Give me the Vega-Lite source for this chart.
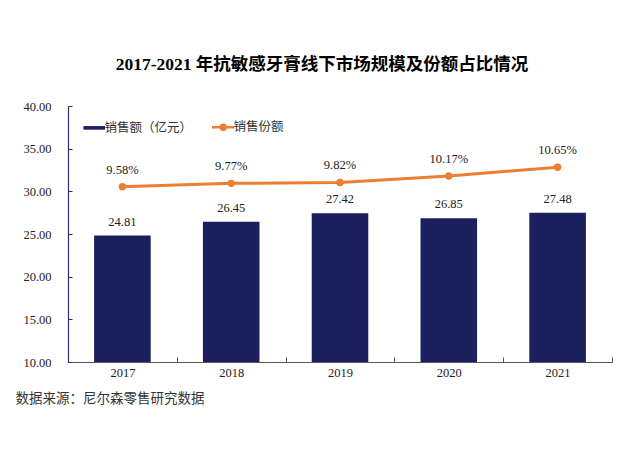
{
  "$schema": "https://vega.github.io/schema/vega-lite/v6.json",
  "autosize": {"type": "none"},
  "padding": {"left": 68, "top": 106, "right": 11, "bottom": 91},
  "width": 544,
  "height": 256,
  "background": "white",
  "title": {
    "text": "2017-2021 年抗敏感牙膏线下市场规模及份额占比情况",
    "font": "Liberation Serif, Noto Sans CJK SC",
    "fontSize": 17.5,
    "fontWeight": "bold",
    "color": "#000000",
    "anchor": "middle",
    "dx": -18,
    "offset": 27
  },
  "config": {
    "view": {"stroke": null},
    "font": "Liberation Serif, Noto Sans CJK SC"
  },
  "data": {
    "values": [
      {"year": "2017", "sales": 24.81, "share": 9.58, "shareLabel": "9.58%"},
      {"year": "2018", "sales": 26.45, "share": 9.77, "shareLabel": "9.77%"},
      {"year": "2019", "sales": 27.42, "share": 9.82, "shareLabel": "9.82%"},
      {"year": "2020", "sales": 26.85, "share": 10.17, "shareLabel": "10.17%"},
      {"year": "2021", "sales": 27.48, "share": 10.65, "shareLabel": "10.65%"}
    ]
  },
  "encoding": {
    "x": {
      "field": "year",
      "type": "ordinal",
      "scale": {"paddingInner": 0, "paddingOuter": 0},
      "axis": {
        "title": "数据来源：尼尔森零售研究数据",
        "titleFont": "Liberation Serif, Noto Sans CJK SC",
        "titleFontSize": 13.5,
        "titleFontWeight": "normal",
        "titleColor": "#333333",
        "titleAnchor": "start",
        "titleAlign": "left",
        "titleBaseline": "middle",
        "titleX": -53,
        "titleY": 36,
        "labelAngle": 0,
        "labelFontSize": 12.5,
        "labelColor": "#222222",
        "labelPadding": 9,
        "tickBand": "extent",
        "tickSize": -5,
        "tickColor": "#555555",
        "domainColor": "#555555",
        "domainWidth": 1.2
      }
    }
  },
  "layer": [
    {
      "mark": {"type": "bar", "width": {"band": 0.52}},
      "encoding": {
        "y": {
          "field": "sales",
          "type": "quantitative",
          "scale": {"domain": [10, 40], "zero": false},
          "axis": {
            "title": null,
            "values": [10, 15, 20, 25, 30, 35, 40],
            "format": ".2f",
            "grid": false,
            "labelFontSize": 12.5,
            "labelColor": "#222222",
            "tickSize": -4,
            "labelPadding": 21,
            "tickColor": "#2b2d6b",
            "domainColor": "#2b2d6b",
            "domainWidth": 1.2
          }
        },
        "y2": {"datum": 10},
        "color": {
          "datum": "销售额（亿元）",
          "scale": {
            "domain": ["销售额（亿元）", "销售份额"],
            "range": ["#1b1f5e", "#ed7d31"]
          },
          "legend": {
            "title": null,
            "orient": "none",
            "legendX": 20,
            "legendY": 15,
            "direction": "horizontal",
            "padding": 0,
            "columnPadding": 14,
            "labelFont": "Liberation Serif, Noto Sans CJK SC",
            "labelFontSize": 12.5,
            "labelColor": "#333333",
            "labelOffset": 4,
            "symbolSize": 900,
            "encode": {
              "symbols": {
                "update": {
                  "shape": {"signal": "datum.value == '销售份额' ? 'M-0.75,0H0.75M0.17,0A0.17,0.17 0 1,1 -0.17,0A0.17,0.17 0 1,1 0.17,0Z' : 'M-0.72,-0.12H0.72V0.12H-0.72Z'"},
                  "fill": {"signal": "datum.value == '销售份额' ? '#ed7d31' : '#1b1f5e'"},
                  "stroke": {"signal": "datum.value == '销售份额' ? '#ed7d31' : '#1b1f5e'"},
                  "strokeWidth": {"signal": "datum.value == '销售份额' ? 2.5 : 0"},
                  "opacity": {"value": 1},
                  "fillOpacity": {"value": 1}
                }
              }
            }
          }
        }
      }
    },
    {
      "mark": {"type": "text", "baseline": "bottom", "dy": -7, "fontSize": 12.5, "color": "#222222"},
      "encoding": {
        "y": {"field": "sales", "type": "quantitative", "scale": {"domain": [10, 40], "zero": false}, "axis": null},
        "text": {"field": "sales", "type": "quantitative", "format": ".2f"}
      }
    },
    {
      "mark": {"type": "line", "strokeWidth": 3, "point": {"filled": true, "size": 55}},
      "encoding": {
        "y": {"field": "share", "type": "quantitative", "scale": {"domain": [0, 14]}, "axis": null},
        "color": {"datum": "销售份额"}
      }
    },
    {
      "mark": {"type": "text", "baseline": "bottom", "dy": -10, "fontSize": 12.5, "color": "#222222"},
      "encoding": {
        "y": {"field": "share", "type": "quantitative", "scale": {"domain": [0, 14]}, "axis": null},
        "text": {"field": "shareLabel", "type": "nominal"}
      }
    }
  ],
  "resolve": {"scale": {"y": "independent"}}
}
